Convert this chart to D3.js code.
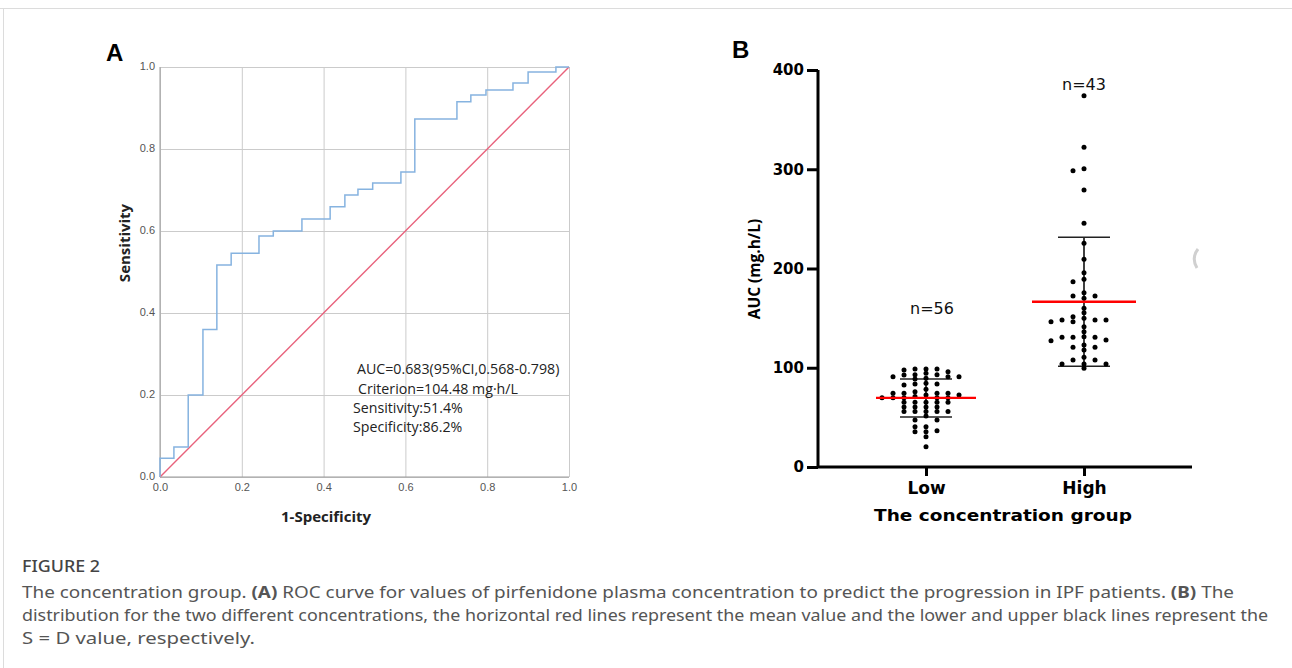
<!DOCTYPE html>
<html>
<head>
<meta charset="utf-8">
<script src="https://cdn.jsdelivr.net/npm/d3@7"></script>
<style>
  html, body { margin: 0; padding: 0; background: #fff; }
  svg { display: block; }
</style>
</head>
<body>
<svg id="chart" width="1292" height="668"></svg>
<script>
// ---------------- DATA ----------------
// Panel A: ROC curve points (1-specificity, sensitivity)
const rocFPR = [0, 0, 0.034, 0.034, 0.069, 0.069, 0.105, 0.105, 0.139, 0.139, 0.174, 0.174,
  0.242, 0.242, 0.277, 0.277, 0.347, 0.347, 0.416, 0.416, 0.452, 0.452, 0.484, 0.484,
  0.52, 0.52, 0.589, 0.589, 0.623, 0.623, 0.726, 0.726, 0.76, 0.76, 0.797, 0.797,
  0.863, 0.863, 0.9, 0.9, 0.968, 0.968, 1];
const rocTPR = [0, 0.046, 0.046, 0.073, 0.073, 0.2, 0.2, 0.36, 0.36, 0.517, 0.517, 0.546,
  0.546, 0.588, 0.588, 0.6, 0.6, 0.629, 0.629, 0.659, 0.659, 0.688, 0.688, 0.702,
  0.702, 0.717, 0.717, 0.744, 0.744, 0.873, 0.873, 0.915, 0.915, 0.932, 0.932, 0.944,
  0.944, 0.961, 0.961, 0.988, 0.988, 1, 1];
const rocTicks = [0, 0.2, 0.4, 0.6, 0.8, 1.0];
const rocNotes = ["AUC=0.683(95%CI,0.568-0.798)", "Criterion=104.48 mg\u00b7h/L", "Sensitivity:51.4%", "Specificity:86.2%"];

// Panel B: AUC (mg.h/L) per patient
const groups = ["Low", "High"];
const groupN = ["n=56", "n=43"];
const lowValues = [72.5,
  98.7, 93.0, 88.7, 83.6, 75.9, 65.2,
  98.7, 93.0, 84.3, 74.2, 69.8, 65.2, 60.5, 55.8,
  97.7, 92.7, 74.2, 69.8, 65.2, 60.5, 55.8, 47.4, 36.6,
  98.7, 91.0, 82.6, 78.3, 74.2, 69.8, 65.2, 60.5, 55.8, 51.4, 47.4, 40.6, 35.6, 30.6, 20.5,
  94.4, 89.3, 74.2, 69.8, 65.2, 60.5, 55.8, 40.6, 35.6,
  91.0, 72.5, 55.8,
  96.0, 91.0, 83.6, 69.8,
  71.0];
const highValues = [374.1, 322.1, 300.6, 298.5, 279.1, 245.5, 225.4,
  209.3, 195.8, 186.7, 170.0, 159.9, 151.4, 148.1, 141.4, 136.3, 131.3, 128.0, 122.9, 117.9, 103.8,
  189.1, 175.6, 172.3, 149.8, 146.4, 130.7, 120.6, 110.5, 103.8, 99.4,
  172.3, 146.4, 130.7, 127.3, 120.6, 103.8,
  148.1, 130.7, 107.8,
  155.5, 148.1, 107.8];
const groupMean = [69.6, 166.5];
const groupSD = [19.1, 65.0];
const aucTicks = [0, 100, 200, 300, 400];

// ---------------- DRAW ----------------
const svg = d3.select("#chart");
svg.append("rect").attr("width", 1292).attr("height", 668).attr("fill", "#fff");
// page frame lines
svg.append("line").attr("x1", 0).attr("x2", 1292).attr("y1", 8.5).attr("y2", 8.5).attr("stroke", "#dcdcdc");
svg.append("line").attr("x1", 3.5).attr("x2", 3.5).attr("y1", 8).attr("y2", 668).attr("stroke", "#dcdcdc");

// ===== Panel A =====
const xA = d3.scaleLinear().domain([0, 1]).range([160, 569]);
const yA = d3.scaleLinear().domain([0, 1]).range([477, 67]);
const gA = svg.append("g");

gA.append("g").attr("transform", `translate(0,${yA(0)})`)
  .call(d3.axisBottom(xA).tickValues(rocTicks).tickSize(-(yA(0) - yA(1))).tickFormat(""))
  .call(g => g.select(".domain").remove())
  .call(g => g.selectAll("line").attr("stroke", "#cbcbcb"));
gA.append("g").attr("transform", `translate(${xA(0)},0)`)
  .call(d3.axisLeft(yA).tickValues(rocTicks).tickSize(-(xA(1) - xA(0))).tickFormat(""))
  .call(g => g.select(".domain").remove())
  .call(g => g.selectAll("line").attr("stroke", "#cbcbcb"));
// axis lines
gA.append("line").attr("x1", xA(0)).attr("x2", xA(0)).attr("y1", yA(0)).attr("y2", yA(1)).attr("stroke", "#9a9a9a");
gA.append("line").attr("x1", xA(0)).attr("x2", xA(1)).attr("y1", yA(0)).attr("y2", yA(0)).attr("stroke", "#9a9a9a");

// tick labels
gA.append("g").attr("transform", `translate(0,${yA(0)})`)
  .call(d3.axisBottom(xA).tickValues(rocTicks).tickSize(0).tickPadding(6).tickFormat(d3.format(".1f")))
  .call(g => g.select(".domain").remove())
  .call(g => g.selectAll("text").attr("font-family", "Liberation Sans, Arial, sans-serif").attr("font-size", 11).attr("fill", "#555"));
gA.append("g").attr("transform", `translate(${xA(0)},0)`)
  .call(d3.axisLeft(yA).tickValues(rocTicks).tickSize(0).tickPadding(5).tickFormat(d3.format(".1f")))
  .call(g => g.select(".domain").remove())
  .call(g => g.selectAll("text").attr("font-family", "Liberation Sans, Arial, sans-serif").attr("font-size", 11).attr("fill", "#555").attr("dy", "0.2em"));

// diagonal reference
gA.append("line").attr("x1", xA(0)).attr("y1", yA(0)).attr("x2", xA(1)).attr("y2", yA(1))
  .attr("stroke", "#e8627c").attr("stroke-width", 1.4);
// ROC curve
const rocPts = rocFPR.map((f, i) => [f, rocTPR[i]]);
gA.append("path").datum(rocPts)
  .attr("d", d3.line().x(d => xA(d[0])).y(d => yA(d[1])))
  .attr("fill", "none").attr("stroke", "#86b3e0").attr("stroke-width", 1.5);

// axis titles
gA.append("text").attr("transform", "translate(130,243) rotate(-90)").attr("text-anchor", "middle")
  .attr("font-family", "Open Sans, sans-serif").attr("font-weight", 700).attr("font-size", 15)
  .attr("fill", "#222").text("Sensitivity");
gA.append("text").attr("x", 326).attr("y", 522).attr("text-anchor", "middle")
  .attr("font-family", "Open Sans, sans-serif").attr("font-weight", 700).attr("font-size", 15)
  .attr("fill", "#222").text("1-Specificity");
// notes
const noteX = [357, 358, 353, 353];
const noteY = [374, 394, 413, 432];
gA.selectAll("text.note").data(rocNotes).join("text").attr("class", "note")
  .attr("x", (d, i) => noteX[i]).attr("y", (d, i) => noteY[i])
  .attr("font-family", "Open Sans, sans-serif").attr("font-size", 14.2).attr("fill", "#222")
  .text(d => d);
// panel letter
svg.append("text").attr("x", 106).attr("y", 61).attr("font-family", "Liberation Sans, Arial, sans-serif")
  .attr("font-weight", 700).attr("font-size", 24).attr("fill", "#000").text("A");

// ===== Panel B =====
const xB = d3.scalePoint().domain(groups).range([926, 1084]);
const yB = d3.scaleLinear().domain([0, 400]).range([467, 70]);
const gB = svg.append("g");

// y axis
gB.append("g").attr("transform", "translate(818,0)")
  .call(d3.axisLeft(yB).tickValues(aucTicks).tickSize(11).tickPadding(3))
  .call(g => g.select(".domain").attr("d", `M0,${yB(400)}V${yB(0)}`).attr("stroke", "#000").attr("stroke-width", 3))
  .call(g => g.selectAll(".tick line").attr("stroke", "#000").attr("stroke-width", 3))
  .call(g => g.selectAll("text").attr("font-family", "DejaVu Sans, sans-serif").attr("font-weight", 700)
    .attr("font-size", 15).attr("fill", "#000"));
// x axis
gB.append("g").attr("transform", `translate(0,${yB(0)})`)
  .call(d3.axisBottom(xB).tickSize(9).tickPadding(6))
  .call(g => g.select(".domain").attr("d", "M817,0H1192").attr("stroke", "#000").attr("stroke-width", 3))
  .call(g => g.selectAll(".tick line").attr("stroke", "#000").attr("stroke-width", 3))
  .call(g => g.selectAll("text").attr("font-family", "DejaVu Sans, sans-serif").attr("font-weight", 700)
    .attr("font-size", 17).attr("fill", "#000"));

gB.append("text").attr("x", 1003).attr("y", 521).attr("text-anchor", "middle")
  .attr("font-family", "DejaVu Sans, sans-serif").attr("font-weight", 700).attr("font-size", 16.5)
  .attr("textLength", 258).attr("lengthAdjust", "spacingAndGlyphs")
  .attr("fill", "#000").text("The concentration group");
gB.append("text").attr("transform", "translate(760,269) rotate(-90)").attr("text-anchor", "middle")
  .attr("font-family", "Open Sans, sans-serif").attr("font-weight", 700).attr("font-size", 15.5)
  .attr("fill", "#000").text("AUC (mg.h/L)");

// beeswarm placement
const colStep = 11, dotR = 2.5, minGap = 4.1;
function swarm(values, cx) {
  const placed = [];
  const sorted = values.slice().sort((a, b) => b - a);
  sorted.forEach(v => {
    const y = yB(v);
    for (let k = 0; k < 40; k++) {
      const c = k === 0 ? 0 : (k % 2 ? -Math.ceil(k / 2) : Math.ceil(k / 2));
      if (!placed.some(p => p.c === c && Math.abs(p.y - y) < minGap)) {
        placed.push({ v, y, c, x: cx + c * colStep });
        break;
      }
    }
  });
  return placed;
}
const allVals = [lowValues, highValues];
groups.forEach((gname, gi) => {
  const cx = xB(gname);
  const m = groupMean[gi], s = groupSD[gi];
  // SD whisker
  gB.append("line").attr("x1", cx).attr("x2", cx).attr("y1", yB(m + s)).attr("y2", yB(m - s))
    .attr("stroke", "#111").attr("stroke-width", 1.6);
  [m + s, m - s].forEach(v => {
    gB.append("line").attr("x1", cx - 26).attr("x2", cx + 26).attr("y1", yB(v)).attr("y2", yB(v))
      .attr("stroke", "#222").attr("stroke-width", 1.5);
  });
  const pts = swarm(allVals[gi], cx);
  gB.append("g").selectAll("circle").data(pts).join("circle")
    .attr("cx", d => d.x).attr("cy", d => d.y).attr("r", dotR).attr("fill", "#000");
  // mean
  const hw = gi === 0 ? 50 : 52;
  gB.append("line").attr("x1", cx - hw).attr("x2", cx + hw).attr("y1", yB(m)).attr("y2", yB(m))
    .attr("stroke", "#ff0000").attr("stroke-width", 2.4);
});
// n labels
const nLabelY = [314, 90];
gB.selectAll("text.n").data(groupN).join("text").attr("class", "n")
  .attr("x", (d, i) => xB(groups[i]) + (i === 0 ? 6 : 0)).attr("y", (d, i) => nLabelY[i])
  .attr("text-anchor", "middle").attr("font-family", "DejaVu Sans, sans-serif").attr("font-size", 16)
  .attr("fill", "#111").text(d => d);
// scanning artifact arc at the right edge
gB.append("path").attr("d", "M1198,249 Q1191,258 1197,268").attr("fill", "none")
  .attr("stroke", "#d0d0d0").attr("stroke-width", 3);
svg.append("text").attr("x", 732).attr("y", 58).attr("font-family", "Liberation Sans, Arial, sans-serif")
  .attr("font-weight", 700).attr("font-size", 24).attr("fill", "#000").text("B");

// ===== Caption =====
const cap = svg.append("g").attr("font-family", "Noto Sans, sans-serif").attr("fill", "#555");
cap.append("text").attr("x", 22).attr("y", 572).attr("font-size", 17).attr("font-weight", 500)
  .attr("textLength", 78).attr("lengthAdjust", "spacingAndGlyphs")
  .attr("fill", "#444").text("FIGURE 2");
const l1 = cap.append("text").attr("x", 22).attr("y", 598).attr("font-size", 15.5)
  .attr("textLength", 1212).attr("lengthAdjust", "spacingAndGlyphs");
l1.append("tspan").text("The concentration group. ");
l1.append("tspan").attr("font-weight", 700).text("(A)");
l1.append("tspan").text(" ROC curve for values of pirfenidone plasma concentration to predict the progression in IPF patients. ");
l1.append("tspan").attr("font-weight", 700).text("(B)");
l1.append("tspan").text(" The");
cap.append("text").attr("x", 22).attr("y", 621).attr("font-size", 15.5)
  .attr("textLength", 1246).attr("lengthAdjust", "spacingAndGlyphs")
  .text("distribution for the two different concentrations, the horizontal red lines represent the mean value and the lower and upper black lines represent the");
cap.append("text").attr("x", 22).attr("y", 644).attr("font-size", 15.5)
  .attr("textLength", 233).attr("lengthAdjust", "spacingAndGlyphs")
  .text("S = D value, respectively.");
</script>
</body>
</html>
